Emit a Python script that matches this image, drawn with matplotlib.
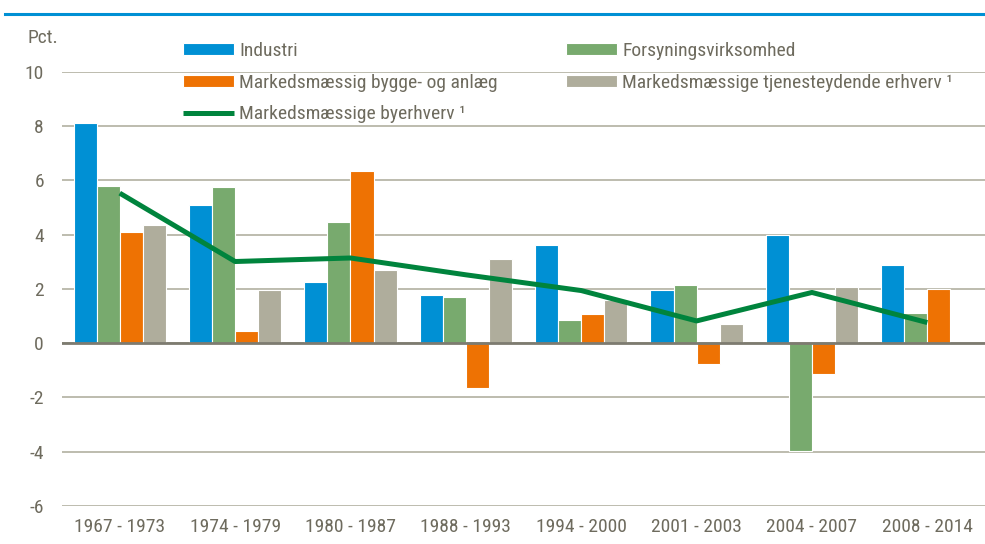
import matplotlib
matplotlib.use("Agg")
import matplotlib.pyplot as plt
from matplotlib import font_manager
from matplotlib.lines import Line2D
import numpy as np

categories = ["1967 - 1973", "1974 - 1979", "1980 - 1987", "1988 - 1993",
              "1994 - 2000", "2001 - 2003", "2004 - 2007", "2008 - 2014"]
industri = [8.1, 5.1, 2.26, 1.76, 3.62, 1.97, 3.98, 2.88]
forsyning = [5.78, 5.74, 4.48, 1.70, 0.86, 2.13, -3.97, 1.13]
bygge = [4.08, 0.45, 6.36, -1.64, 1.07, -0.76, -1.13, 1.99]
tjeneste = [4.37, 1.97, 2.70, 3.10, 1.60, 0.71, 2.07, -0.04]
byerhverv = [5.53, 3.01, 3.14, 2.52, 1.94, 0.82, 1.87, 0.76]
yticks = [-6, -4, -2, 0, 2, 4, 6, 8, 10]

font = "DejaVu Sans"
for cand in ["Liberation Sans Narrow", "Roboto Condensed", "Open Sans Condensed", "Liberation Sans"]:
    try:
        font_manager.findfont(cand, fallback_to_default=False)
        font = cand
        break
    except Exception:
        pass
plt.rcParams["font.family"] = [font, "DejaVu Sans"]

txt = "#6e6b5e"
c_blue = "#0090d4"
c_green = "#78aa6e"
c_orange = "#ee7203"
c_gray = "#afad9c"
c_line = "#00843d"

fig = plt.figure(figsize=(9.85, 5.44), dpi=100)
ax = fig.add_axes([0.063, 0.0699, 0.937, 0.798])

x = np.arange(len(categories))
w = 0.2
series = [(industri, c_blue, "Industri"), (forsyning, c_green, "Forsyningsvirksomhed"),
          (bygge, c_orange, "Markedsmæssig bygge- og anlæg"),
          (tjeneste, c_gray, "Markedsmæssige tjenesteydende erhverv ¹")]
bars = []
for i, (vals, col, lab) in enumerate(series):
    b = ax.bar(x + (i - 1.5) * w, vals, width=w, color=col, edgecolor="white",
               linewidth=0.8, label=lab, zorder=3)
    bars.append(b)
ln, = ax.plot(x, byerhverv, color=c_line, lw=3.6, label="Markedsmæssige byerhverv ¹",
              zorder=4, solid_capstyle="butt")

ax.set_xlim(-0.5, 7.5)
ax.set_ylim(-6, 10)
ax.set_yticks(yticks)
ax.set_yticklabels([str(v) for v in yticks])
ax.set_xticks(x)
ax.set_xticklabels(categories)
ax.tick_params(axis="both", length=0, colors=txt, labelsize=14)
ax.tick_params(axis="y", pad=13)
ax.tick_params(axis="x", pad=9)
for s in ax.spines.values():
    s.set_visible(False)
ax.grid(axis="y", color="#b8b6a8", lw=1.3, zorder=0)
ax.axhline(0, color="#7d7b70", lw=2, zorder=5)

fig.text(0.028, 0.93, "Pct.", color=txt, fontsize=14, ha="left", va="center")

fig.add_artist(Line2D([0.005, 1.0], [1 - 14/544, 1 - 14/544], color=c_blue, lw=2.2,
                      transform=fig.transFigure))

handles = [bars[0], bars[2], ln, bars[1], bars[3]]
labels = [h.get_label() for h in handles]
leg = fig.legend(handles, labels, ncol=2, loc="upper left",
                 bbox_to_anchor=(183/985, 1 - 42/544), frameon=False,
                 fontsize=14, labelcolor=txt, handlelength=2.6, handleheight=0.55,
                 handletextpad=0.3, labelspacing=0.7, columnspacing=3.5, borderpad=0,
                 borderaxespad=0)

fig.savefig("out.png", dpi=100)
